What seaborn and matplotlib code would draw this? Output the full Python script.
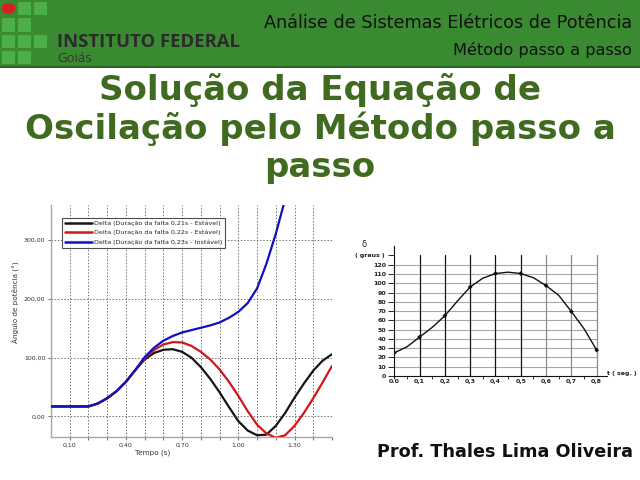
import numpy as np
import pandas as pd
import matplotlib
matplotlib.use("Agg")
import matplotlib.pyplot as plt
import seaborn as sns
from matplotlib.patches import Rectangle, Circle

# ---------------- data ----------------
t_sim = [0.00, 0.05, 0.10, 0.15, 0.20, 0.25, 0.30, 0.35, 0.40, 0.45, 0.50,
         0.55, 0.60, 0.65, 0.70, 0.75, 0.80, 0.85, 0.90, 0.95, 1.00,
         1.05, 1.10, 1.15, 1.20, 1.25, 1.30, 1.35, 1.40, 1.45, 1.50]
delta_common = [17, 17, 17, 17, 17, 22, 31, 43, 59, 79]
delta_021 = delta_common + [97, 108, 113.5, 114.5, 110, 100, 84, 64, 41, 16, -8,
                            -24, -32, -31, -16, 6, 32, 56, 78, 95, 106]
delta_022 = delta_common + [99, 113, 122.5, 126.5, 126, 120, 110, 97, 80, 59, 35,
                            9, -14, -29, -36.5, -32, -16, 6, 31, 58, 86]
delta_023 = delta_common + [101, 117, 129, 137, 143, 147, 151, 155, 160, 168, 178,
                            193, 218, 260, 311, 370]
series_labels = ["Delta (Duração da falta 0,21s - Estável)",
                 "Delta (Duração da falta 0,22s - Estável)",
                 "Delta (Duração da falta 0,23s - Instável)"]
x_ticks_left = [0.10, 0.40, 0.70, 1.00, 1.30]
y_ticks_left = [0, 100, 200, 300]

t_step = [0.0, 0.1, 0.2, 0.3, 0.4, 0.5, 0.6, 0.7, 0.8]
delta_step = [25, 42, 65, 96, 110.5, 110.5, 97.5, 69.5, 28]
t_curve = [0.0, 0.05, 0.1, 0.15, 0.2, 0.25, 0.3, 0.35, 0.4, 0.45, 0.5,
           0.55, 0.6, 0.65, 0.7, 0.75, 0.8]
delta_curve = [25, 31.5, 42, 52.5, 65, 81, 96, 105.5, 110.5, 112, 110.5,
               106, 97.5, 87, 69.5, 51, 28]

# ---------------- figure ----------------
sns.set_theme(style="white")
plt.rcParams["font.family"] = ["DejaVu Sans"]
W, H = 640, 480
fig = plt.figure(figsize=(6.4, 4.8), dpi=100)
fig.patch.set_facecolor("white")

def fx(x):
    return x / W

def fy(y):
    return 1 - y / H

# header bar
fig.patches.append(Rectangle((0, fy(66)), 1, 66 / H, transform=fig.transFigure,
                             facecolor="#3a8a32", edgecolor="none", zorder=0))
fig.patches.append(Rectangle((0, fy(67.5)), 1, 1.5 / H, transform=fig.transFigure,
                             facecolor="#2a6624", edgecolor="none", zorder=0))
# logo squares
cols = [2, 18, 34]
rows = [2, 18.5, 35, 51]
pattern = [[0, 1, 1], [1, 1, 0], [1, 1, 1], [1, 1, 0]]
for r, yy in enumerate(rows):
    for c, xx in enumerate(cols):
        if r == 0 and c == 0:
            fig.patches.append(Circle((fx(xx + 6.5), fy(yy + 6.5)), 7 / W,
                                      transform=fig.transFigure,
                                      facecolor="#d61f26", edgecolor="none"))
        elif pattern[r][c]:
            fig.patches.append(Rectangle((fx(xx), fy(yy + 13)), 13 / W, 13 / H,
                                         transform=fig.transFigure,
                                         facecolor="#4daf4a", edgecolor="none"))

fig.text(fx(57), fy(42), "INSTITUTO FEDERAL", fontsize=13.3, fontweight="bold",
         family="Open Sans", color="#2b2b2b", va="center", ha="left")
fig.text(fx(57), fy(59), "Goiás", fontsize=9.5, family="Open Sans",
         color="#333333", va="center", ha="left")
fig.text(fx(632), fy(23), "Análise de Sistemas Elétricos de Potência",
         fontsize=12.7, family="DejaVu Sans", color="#111111",
         va="center", ha="right")
fig.text(fx(632), fy(50), "Método passo a passo", fontsize=11.6,
         family="DejaVu Sans", color="#111111",
         va="center", ha="right")

# title
title_lines = ["Solução da Equação de", "Oscilação pelo Método passo a", "passo"]
for i, line in enumerate(title_lines):
    fig.text(fx(320), fy(90 + 38.5 * i), line, fontsize=24.5, fontweight="bold",
             family="DejaVu Sans", color="#3f6a1f", ha="center", va="center")

fig.text(fx(633), fy(452), "Prof. Thales Lima Oliveira", fontsize=12.7,
         fontweight="bold", family="DejaVu Sans", color="#111111",
         ha="right", va="center")

# ---------------- left chart ----------------
axL = fig.add_axes([fx(51), fy(437), 281 / W, 232 / H])
n = len(t_sim)
df = pd.DataFrame({
    "t": t_sim * 2 + t_sim[:len(delta_023)],
    "delta": delta_021 + delta_022 + delta_023,
    "serie": [series_labels[0]] * n + [series_labels[1]] * n
             + [series_labels[2]] * len(delta_023),
})
sns.lineplot(data=df, x="t", y="delta", hue="serie", hue_order=series_labels,
             palette=["#151515", "#d41515", "#1010c0"], linewidth=1.6,
             ax=axL, zorder=3, legend=True)
axL.set_xlim(0, 1.5)
axL.set_ylim(-35, 360)
axL.set_xticks(x_ticks_left)
axL.set_xticklabels([f"{v:.2f}".replace(".", ",") for v in x_ticks_left])
axL.set_yticks(y_ticks_left)
axL.set_yticklabels([f"{v:.2f}".replace(".", ",") for v in y_ticks_left])
axL.set_xticks(np.arange(0.1, 1.51, 0.1), minor=True)
for xv in np.arange(0.1, 1.51, 0.1):
    axL.axvline(xv, color="#707070", lw=0.7, ls=(0, (1.5, 1.8)), zorder=1)
for yv in y_ticks_left:
    axL.axhline(yv, color="#707070", lw=0.7, ls=(0, (1.5, 1.8)), zorder=1)
for s in ["top", "right"]:
    axL.spines[s].set_visible(False)
for s in ["left", "bottom"]:
    axL.spines[s].set_color("#a8a8a8")
    axL.spines[s].set_linewidth(1.0)
axL.tick_params(axis="both", which="both", labelsize=4.5, colors="#555555",
                labelcolor="#333333", length=2.5, width=0.6, direction="out",
                bottom=True, left=True, pad=1.5)
axL.set_xlabel("Tempo (s)", fontsize=5.2, color="#333333")
axL.set_ylabel("Ângulo de potência (°)", fontsize=5.2, color="#333333")
axL.xaxis.set_label_coords(0.363, -0.055)
axL.yaxis.set_label_coords(-0.11, 0.58)
leg = axL.legend(loc="upper left", bbox_to_anchor=(0.04, 0.945), fontsize=4.6,
                 frameon=True, fancybox=False, borderpad=0.4, labelspacing=0.65,
                 handlelength=4.3, handletextpad=0.3, borderaxespad=0)
leg.get_frame().set_edgecolor("#222222")
leg.get_frame().set_linewidth(0.8)
for lh in leg.get_lines():
    lh.set_linewidth(1.8)

# ---------------- right chart ----------------
axR = fig.add_axes([fx(394.3), fy(378.8), 212.5 / W, 132.6 / H])
axR.set_xlim(0, 0.84)
axR.set_ylim(-3, 140)
for yv in range(10, 121, 10):
    axR.plot([0, 0.8], [yv, yv], color="#a8a8a8", lw=0.8, zorder=1)
for xv in t_step[1:]:
    col = "#111111" if xv <= 0.55 else "#8c8c8c"
    axR.plot([xv, xv], [0, 130], color=col, lw=0.9, zorder=1)
sns.lineplot(x=t_curve, y=delta_curve, ax=axR, color="#111111", lw=1.0,
             zorder=3)
sns.scatterplot(x=t_step, y=delta_step, ax=axR, color="#111111", s=6,
                marker="D", edgecolor="none", zorder=4)
for s in ["top", "right"]:
    axR.spines[s].set_visible(False)
axR.spines["bottom"].set_position(("data", 0))
axR.spines["bottom"].set_bounds(0, 0.84)
axR.spines["left"].set_bounds(-2, 140)
for s in ["left", "bottom"]:
    axR.spines[s].set_color("#111111")
    axR.spines[s].set_linewidth(0.8)
axR.set_xticks(t_step)
axR.set_xticklabels(["0.0"] + [f"{v:.1f}".replace(".", ",") for v in t_step[1:]])
axR.set_xticks(np.arange(0.05, 0.8, 0.1), minor=True)
axR.set_yticks(list(range(0, 131, 10)))
axR.set_yticklabels([str(v) for v in range(0, 121, 10)] + [""])
axR.tick_params(axis="x", which="major", length=0, pad=2.5, labelsize=4.5,
                labelcolor="#222222")
axR.tick_params(axis="x", which="minor", length=2.5, width=0.7, direction="out",
                bottom=True)
axR.tick_params(axis="y", which="major", length=4, width=0.7, direction="out",
                left=True, pad=2, labelsize=4.5, labelcolor="#222222")
for lbl in axR.get_xticklabels() + axR.get_yticklabels():
    lbl.set_fontweight("bold")
axR.set_xlabel("")
axR.set_ylabel("")
fig.text(fx(364), fy(245), "δ", fontsize=6, color="#222222", ha="center",
         va="center")
fig.text(fx(370), fy(255), "( graus )", fontsize=4.5, fontweight="bold",
         color="#222222", ha="center", va="center")
fig.text(fx(622), fy(373), "t ( seg. )", fontsize=4.5, fontweight="bold",
         color="#222222", ha="center", va="center")

fig.savefig("out.png", dpi=100, facecolor="white")
